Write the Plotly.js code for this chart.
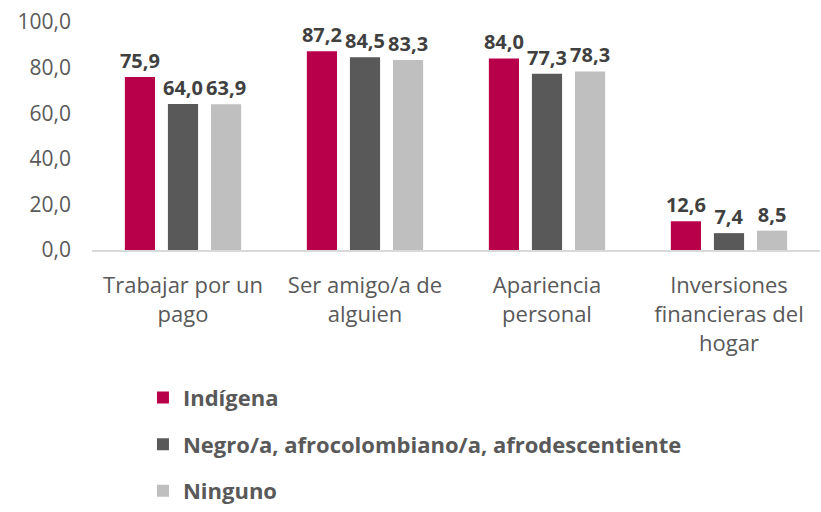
<!DOCTYPE html>
<html>
<head>
<meta charset="utf-8">
<script src="https://cdn.plot.ly/plotly-3.0.1.min.js"></script>
<style>
  body { margin: 0; background: #fff; }
  #plot1 { width: 821px; height: 512px; }
</style>
</head>
<body>
<div id="plot1"></div>
<script>
var categories = ['Trabajar por un<br>pago', 'Ser amigo/a de<br>alguien',
  'Apariencia<br>personal', 'Inversiones<br>financieras del<br>hogar'];

var indigena = [75.9, 87.2, 84.0, 12.6];
var negro = [64.0, 84.5, 77.3, 7.4];
var ninguno = [63.9, 83.3, 78.3, 8.5];

var names = ['Indígena', 'Negro/a, afrocolombiano/a, afrodescentiente', 'Ninguno'];
var colors = ['#B8004A', '#595959', '#BFBFBF'];

function makeTrace(values, i) {
  return {
    x: categories,
    y: values,
    type: 'bar',
    name: names[i],
    legendgroup: 'g' + i,
    marker: {color: colors[i]},
    texttemplate: '%{y:.1f}',
    textposition: 'outside',
    constraintext: 'none',
    cliponaxis: false,
    textfont: {family: 'Open Sans, sans-serif', size: 20, color: '#404040', weight: 'bold'},
    hoverinfo: 'skip'
  };
}

var data = [makeTrace(indigena, 0), makeTrace(negro, 1), makeTrace(ninguno, 2)];

var layout = {
  width: 821,
  height: 512,
  margin: {l: 92, r: 1, t: 22, b: 262},
  separators: ',.',
  font: {family: 'Open Sans, sans-serif', size: 21, color: '#595959'},
  barmode: 'group',
  bargap: 0.29,
  bargroupgap: 0.3,
  showlegend: true,
  xaxis: {
    showline: true,
    linecolor: '#D9D9D9',
    linewidth: 2,
    ticks: '',
    automargin: false,
    ticklabelstandoff: 15,
    tickfont: {size: 22, color: '#595959'}
  },
  yaxis: {
    range: [0, 100],
    dtick: 20,
    tickformat: '.1f',
    showgrid: false,
    zeroline: false,
    showline: false,
    ticks: '',
    automargin: false,
    ticklabelstandoff: 20,
    tickfont: {size: 21, color: '#595959'}
  },
  legend: {
    orientation: 'v',
    x: 0.07,
    xanchor: 'left',
    y: -1.148,
    yanchor: 'bottom',
    tracegroupgap: 15,
    itemwidth: 30,
    font: {size: 22, color: '#595959', weight: 'bold'}
  }
};

Plotly.newPlot('plot1', data, layout, {displayModeBar: false, staticPlot: true});
</script>
</body>
</html>
